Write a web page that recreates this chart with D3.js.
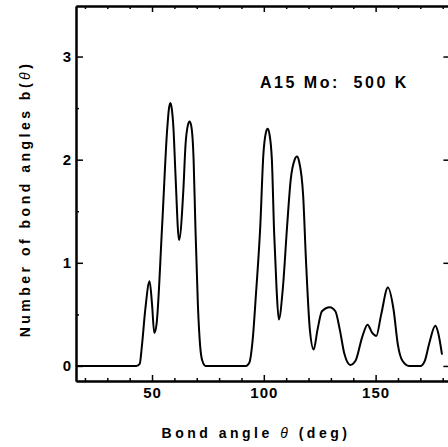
<!DOCTYPE html>
<html>
<head>
<meta charset="utf-8">
<script src="https://cdn.jsdelivr.net/npm/d3@7"></script>
<style>
  body { margin: 0; background: #fff; }
  text { font-family: "Liberation Sans", Arial, sans-serif; font-weight: bold; fill: #000; }
</style>
</head>
<body>
<div id="root"></div>
<script>
// bond angle distribution
var angles = [16, 30, 43, 44.5, 45.5, 47, 48.9, 50, 51, 52, 54.5, 56.8, 57.6, 58.2, 58.8, 59.6, 60.5, 62.1, 64, 65.0, 66.0, 66.8, 67.6, 68.6, 69.4, 70.5, 71.5, 72.5, 74,
              92, 93.5, 95, 96.5, 98.4, 99.8, 100.9, 101.7, 102.5, 103.6, 104.6, 105.7, 106.7, 108.5, 110.4, 112.0, 113.8, 114.8, 115.8, 117.6, 118.8, 120.6, 122.3,
              124, 126, 129.5, 132, 134, 136, 138.7,
              141, 144, 146.4, 148.5, 150.3, 152.5, 155.5, 158, 160, 162, 165, 170, 172, 174, 176.7, 178, 179.7]
var counts = [0, 0, 0, 0.02, 0.2, 0.55, 0.82, 0.6, 0.32, 0.4, 1.35, 2.3, 2.5, 2.55, 2.5, 2.3, 1.85, 1.22, 1.7, 2.15, 2.33, 2.37, 2.32, 2.0, 1.35, 0.6, 0.2, 0.05, 0,
              0, 0.03, 0.25, 0.7, 1.35, 2.05, 2.26, 2.30, 2.25, 2.0, 1.3, 0.75, 0.45, 0.75, 1.35, 1.8, 2.0, 2.03, 1.98, 1.65, 1.05, 0.35, 0.16,
              0.35, 0.53, 0.57, 0.53, 0.35, 0.12, 0.01,
              0.05, 0.28, 0.40, 0.32, 0.29, 0.5, 0.76, 0.55, 0.2, 0.05, 0, 0, 0.05, 0.22, 0.39, 0.32, 0.11]

var xTicks = [50, 100, 150]
var yTicks = [0, 1, 2, 3]
var xMinor = [20, 30, 40, 60, 70, 80, 90, 110, 120, 130, 140, 160, 170, 180]
var yMinor = [0.5, 1.5, 2.5]
var label = "A15 Mo:  500 K"

var width = 448, height = 447

var svg = d3.select("#root").append("svg")
    .attr("width", width)
    .attr("height", height)

var x = d3.scaleLinear().domain([16, 183]).range([76, 449.4])
var y = d3.scaleLinear().domain([-0.146, 3.49]).range([381, 6])

function styleAxis(g) {
  g.selectAll("path").attr("stroke", "#000").attr("stroke-width", 2)
  g.selectAll("line").attr("stroke", "#000").attr("stroke-width", 1.5)
  g.selectAll("text").attr("font-size", 15).style("letter-spacing", "1px")
}

// bottom
svg.append("g").attr("transform", "translate(0," + y.range()[0] + ")")
  .call(d3.axisBottom(x).tickValues(xTicks).tickSize(-6).tickSizeOuter(0).tickPadding(6).tickFormat(d3.format("d")))
  .call(styleAxis)
svg.append("g").attr("transform", "translate(0," + y.range()[0] + ")")
  .call(d3.axisBottom(x).tickValues(xMinor).tickSize(-3).tickSizeOuter(0).tickFormat(""))
  .call(styleAxis)
// top
svg.append("g").attr("transform", "translate(0," + y.range()[1] + ")")
  .call(d3.axisTop(x).tickValues(xTicks).tickSize(-6).tickSizeOuter(0).tickFormat(""))
  .call(styleAxis)
svg.append("g").attr("transform", "translate(0," + y.range()[1] + ")")
  .call(d3.axisTop(x).tickValues(xMinor).tickSize(-3).tickSizeOuter(0).tickFormat(""))
  .call(styleAxis)
// left
svg.append("g").attr("transform", "translate(" + x.range()[0] + ",0)")
  .call(d3.axisLeft(y).tickValues(yTicks).tickSize(-7).tickSizeOuter(0).tickPadding(4).tickFormat(d3.format("d")))
  .call(styleAxis)
svg.append("g").attr("transform", "translate(" + x.range()[0] + ",0)")
  .call(d3.axisLeft(y).tickValues(yMinor).tickSize(-3).tickSizeOuter(0).tickFormat(""))
  .call(styleAxis)
// right
svg.append("g").attr("transform", "translate(" + x.range()[1] + ",0)")
  .call(d3.axisRight(y).tickValues(yTicks).tickSize(-6).tickSizeOuter(0).tickFormat(""))
  .call(styleAxis)

// the curve
var pts = angles.map(function(a, i) { return [a, counts[i]] })
var line = d3.line()
    .x(function(d) { return x(d[0]) })
    .y(function(d) { return y(d[1]) })
    .curve(d3.curveMonotoneX)
svg.append("path")
    .datum(pts)
    .attr("d", line)
    .attr("fill", "none")
    .attr("stroke", "#000")
    .attr("stroke-width", 2)

// annotation
svg.append("text")
    .attr("x", 260).attr("y", 88)
    .attr("font-size", 16)
    .style("letter-spacing", "2.5px")
    .style("white-space", "pre")
    .text(label)

// axis titles
var xt = svg.append("text")
    .attr("x", 256).attr("y", 438)
    .attr("text-anchor", "middle")
    .attr("font-size", 14)
    .style("letter-spacing", "3.5px")
xt.append("tspan").text("Bond angle ")
xt.append("tspan").style("font-style", "italic").style("font-weight", "normal").text("θ")
xt.append("tspan").text(" (deg)")

var yt = svg.append("text")
    .attr("transform", "translate(30,199) rotate(-90)")
    .attr("text-anchor", "middle")
    .attr("font-size", 14)
    .style("letter-spacing", "3.5px")
yt.append("tspan").text("Number of bond angles b(")
yt.append("tspan").style("font-style", "italic").style("font-weight", "normal").text("θ")
yt.append("tspan").text(")")
</script>
</body>
</html>
